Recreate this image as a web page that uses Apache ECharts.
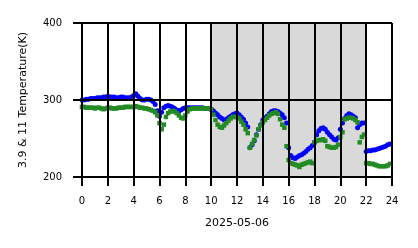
<!DOCTYPE html>
<html><head><meta charset="utf-8">
<script src="https://cdn.jsdelivr.net/npm/echarts@6/dist/echarts.min.js"></script>
<style>html,body{margin:0;padding:0;background:#fff}#c{width:418px;height:248px}</style>
</head><body><div id="c"></div>
<script>
var dateLabel = "2025-05-06";
var yAxisTitle = "3.9 & 11 Temperature(K)";
var sampleStepHours = 1/6;
var shadedStart = 10, shadedEnd = 22;
var xTicks = [0,2,4,6,8,10,12,14,16,18,20,22,24];
var yTicks = [200,300,400];
var temp11 = [
300,300,301,301,302,302, 302,303,303,303,304,304, 305,304,304,304,303,303, 304,304,303,303,303,304,
306,308,305,302,300,300, 301,301,300,298,294,286, 279,284,290,292,293,292, 291,289,287,286,287,289,
290,290,290,290,290,290, 290,290,290,289,289,289, 288,286,283,281,278,276, 274,275,277,279,281,282,
283,281,278,275,270,265, 238,242,247,255,262,268, 274,277,279,282,285,286, 286,285,283,281,277,270,
238,228,225,224,226,228, 229,231,233,236,238,241, 245,255,260,263,264,262, 258,255,252,249,248,251,
262,270,276,280,282,281, 279,277,264,268,270,270, 233,234,234,235,235,236, 237,238,239,240,242,243];
var temp39 = [
291,291,290,290,290,290, 289,290,290,289,288,289, 290,290,289,289,289,290, 290,290,291,291,291,291,
291,292,291,290,290,289, 289,288,287,286,284,280, 270,262,268,278,283,285, 286,285,283,280,277,276,
280,285,288,289,289,289, 289,289,289,289,289,289, 288,281,274,268,265,264, 267,270,273,276,278,278,
278,276,272,268,262,257, 238,243,248,254,262,267, 271,274,277,280,282,283, 284,282,275,268,264,240,
222,218,217,216,215,213, 216,217,218,219,220,218, 245,247,248,248,249,247, 240,239,238,238,239,242,
252,258,275,276,277,277, 276,274,271,245,252,255, 218,218,217,217,216,215, 214,214,214,214,215,217];

function pairs(arr){ return arr.map(function(v,i){ return [i*sampleStepHours, v]; }); }
var chart = echarts.init(document.getElementById('c'), null, {renderer:'canvas'});
var font = 'DejaVu Sans';
chart.setOption({
  animation:false,
  grid:{left:82,right:26,top:23,bottom:71,containLabel:false},
  xAxis:{type:'value',min:xTicks[0],max:xTicks[xTicks.length-1],interval:2,z:10,
    name:dateLabel,nameLocation:'middle',nameGap:41,
    nameTextStyle:{fontFamily:font,fontSize:11,color:'#000'},
    axisLine:{show:true,lineStyle:{color:'#000',width:2}},
    axisTick:{show:true,length:9,lineStyle:{color:'#000',width:2}},
    axisLabel:{fontFamily:font,fontSize:10,color:'#000',margin:19},
    splitLine:{show:true,lineStyle:{color:'#000',width:2}}},
  yAxis:{type:'value',min:yTicks[0],max:yTicks[yTicks.length-1],interval:100,z:10,
    name:yAxisTitle,nameLocation:'middle',nameGap:53,nameRotate:90,
    nameTextStyle:{fontFamily:font,fontSize:11,color:'#000'},
    axisLine:{show:true,lineStyle:{color:'#000',width:2}},
    axisTick:{show:true,length:9,lineStyle:{color:'#000',width:2}},
    axisLabel:{fontFamily:font,fontSize:10,color:'#000',margin:20},
    splitLine:{show:true,lineStyle:{color:'#000',width:2}}},
  series:[
    {type:'scatter',data:[],silent:true,
     markArea:{silent:true,itemStyle:{color:'#d9d9d9'},data:[[{xAxis:shadedStart},{xAxis:shadedEnd}]]}},
    {type:'scatter',name:'11',data:pairs(temp11),symbol:'circle',symbolSize:5,
     itemStyle:{color:'#0000ff',opacity:1}},
    {type:'scatter',name:'3.9',data:pairs(temp39),symbol:'rect',symbolSize:4.5,
     itemStyle:{color:'#228b22',opacity:1}}
  ]
});
</script></body></html>
